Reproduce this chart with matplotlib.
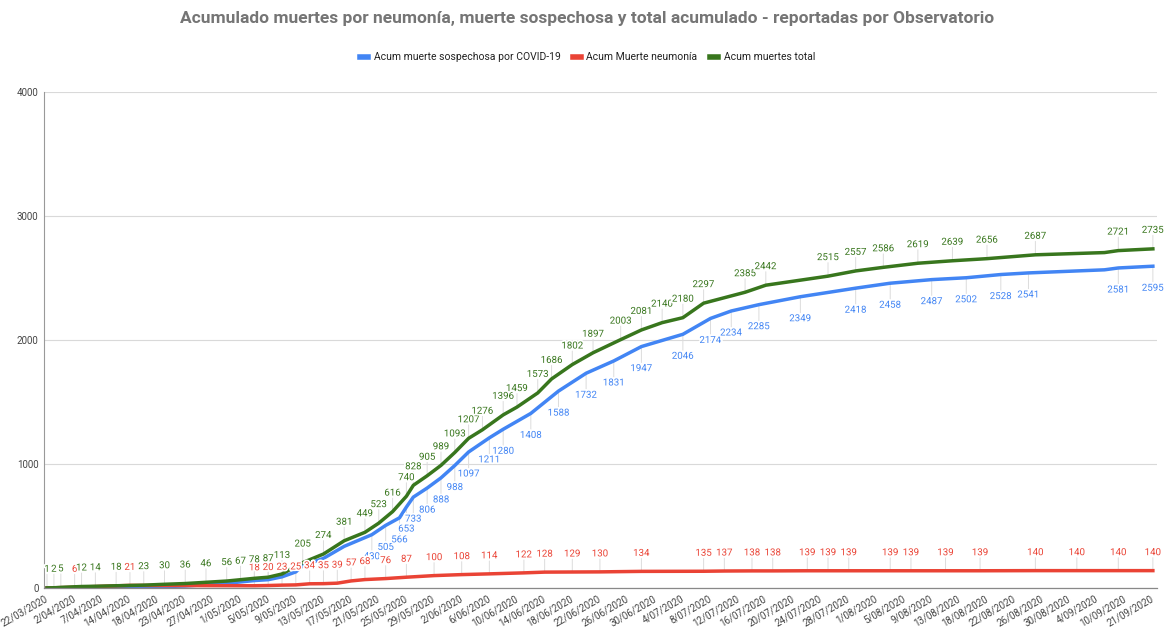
import matplotlib
matplotlib.use("Agg")
import matplotlib.pyplot as plt
import matplotlib.patheffects as pe
from matplotlib.lines import Line2D
import numpy as np

plt.rcParams["font.family"] = ["Roboto", "DejaVu Sans"]

# x axis: one category per report, a label every 4th category
tick_labels = ["22/03/2020", "2/04/2020", "7/04/2020", "14/04/2020", "18/04/2020",
               "23/04/2020", "27/04/2020", "1/05/2020", "5/05/2020", "9/05/2020",
               "13/05/2020", "17/05/2020", "21/05/2020", "25/05/2020", "29/05/2020",
               "2/06/2020", "6/06/2020", "10/06/2020", "14/06/2020", "18/06/2020",
               "22/06/2020", "26/06/2020", "30/06/2020", "4/07/2020", "8/07/2020",
               "12/07/2020", "16/07/2020", "20/07/2020", "24/07/2020", "28/07/2020",
               "1/08/2020", "5/08/2020", "9/08/2020", "13/08/2020", "18/08/2020",
               "22/08/2020", "26/08/2020", "30/08/2020", "4/09/2020", "10/09/2020",
               "21/09/2020"]
n_cat = 161
tick_step = 4

# Acum muerte sospechosa por COVID-19 (category index, value)
sosp_idx = [0, 10, 20, 26, 30, 32, 34, 36, 37, 40, 43, 47, 49, 51, 52, 53, 55, 57, 59, 61,
            64, 66, 70, 74, 78, 82, 86, 92, 96, 99, 103, 109, 117, 122, 128, 133, 138, 142,
            153, 155, 160]
sosp_val = [0, 2, 16, 38, 60, 67, 90, 130, 180, 239, 336, 430, 505, 566, 653, 733, 806, 888,
            988, 1097, 1211, 1280, 1408, 1588, 1732, 1831, 1947, 2046, 2174, 2234, 2285, 2349,
            2418, 2458, 2487, 2502, 2528, 2541, 2566, 2581, 2595]
sosp_first_label = 47
sosp_skip = [153]

# Acum Muerte neumonía
neum_idx = [0, 4, 12, 30, 32, 34, 36, 38, 40, 42, 44, 46, 49, 52, 56, 60, 64, 69, 72, 76,
            80, 86, 95, 98, 102, 105, 110, 113, 116, 122, 125, 130, 135, 143, 149, 155, 160]
neum_val = [0, 6, 21, 18, 20, 23, 25, 34, 35, 39, 57, 68, 76, 87, 100, 108, 114, 122, 128, 129,
            130, 134, 135, 137, 138, 138, 139, 139, 139, 139, 139, 139, 139, 140, 140, 140, 140]

# Acum muertes total
total_idx = [0, 1, 2, 5, 7, 10, 14, 17, 20, 23, 26, 28, 30, 32, 34, 37, 40, 43, 46, 48, 50,
             52, 53, 55, 57, 59, 61, 63, 66, 68, 71, 73, 76, 79, 83, 86, 89, 92, 95, 101, 104,
             113, 117, 121, 126, 131, 136, 143, 153, 155, 160]
total_val = [1, 2, 5, 12, 14, 18, 23, 30, 36, 46, 56, 67, 78, 87, 113, 205, 274, 381, 449, 523,
             616, 740, 828, 905, 989, 1093, 1207, 1276, 1396, 1459, 1573, 1686, 1802, 1897,
             2003, 2081, 2140, 2180, 2297, 2385, 2442, 2515, 2557, 2586, 2619, 2639, 2656,
             2687, 2705, 2721, 2735]
total_skip = [153]

BLUE = "#4285f4"
RED = "#ea4335"
GREEN = "#38761d"

fig = plt.figure(figsize=(11.68, 6.28), dpi=100)
ax = fig.add_axes([0.0377, 0.0637, 0.9529, 0.7898])

ax.plot(sosp_idx, sosp_val, color=BLUE, lw=2.5, solid_joinstyle="round", zorder=2)
ax.plot(neum_idx, neum_val, color=RED, lw=2.5, solid_joinstyle="round", zorder=2.1)
ax.plot(total_idx, total_val, color=GREEN, lw=2.5, solid_joinstyle="round", zorder=2.2)


def add_labels(idx, vals, color, dy, z):
    sign = 1 if dy > 0 else -1
    for i, v in zip(idx, vals):
        ax.annotate("", xy=(i, v), xytext=(0, dy - sign * 4), textcoords="offset points",
                    arrowprops=dict(arrowstyle="-", color="#dcdcdc", lw=0.7,
                                    shrinkA=0, shrinkB=0), zorder=1)
        ax.annotate(str(v), xy=(i, v), xytext=(0, dy), textcoords="offset points",
                    ha="center", va="center", fontsize=7, color=color, zorder=z,
                    path_effects=[pe.withStroke(linewidth=2.5, foreground="white")])


s_pts = [(i, v) for i, v in zip(sosp_idx, sosp_val)
         if i >= sosp_first_label and i not in sosp_skip]
add_labels([p[0] for p in s_pts], [p[1] for p in s_pts], BLUE, -15.5, 5)
n_pts = [(i, v) for i, v in zip(neum_idx, neum_val) if v > 0]
add_labels([p[0] for p in n_pts], [p[1] for p in n_pts], RED, 13.3, 6)
t_pts = [(i, v) for i, v in zip(total_idx, total_val) if i not in total_skip]
add_labels([p[0] for p in t_pts], [p[1] for p in t_pts], GREEN, 13.7, 7)

ax.set_xlim(-0.43, 160.6)
ax.set_ylim(0, 4000)
ax.set_yticks([0, 1000, 2000, 3000, 4000])
ax.set_xticks(np.arange(0, n_cat, tick_step))
ax.set_xticklabels(tick_labels, rotation=30, ha="right", va="center", rotation_mode="anchor")
ax.tick_params(axis="both", length=0, labelsize=7, colors="#444444")
ax.tick_params(axis="x", pad=7)
ax.tick_params(axis="y", pad=4)
ax.yaxis.grid(True, color="#d9d9d9", lw=0.8)
ax.set_axisbelow(True)
for s in ["top", "right"]:
    ax.spines[s].set_visible(False)
ax.spines["left"].set_color("#999999")
ax.spines["left"].set_linewidth(0.8)
ax.spines["bottom"].set_color("#888888")
ax.spines["bottom"].set_linewidth(0.9)

fig.text(0.503, 0.971,
         "Acumulado muertes por neumonía, muerte sospechosa y total acumulado - reportadas por Observatorio",
         ha="center", va="center", fontsize=12.5, fontweight="bold", color="#757575")

handles = [Line2D([], [], color=BLUE, lw=4),
           Line2D([], [], color=RED, lw=4),
           Line2D([], [], color=GREEN, lw=4)]
fig.legend(handles, ["Acum muerte sospechosa por COVID-19", "Acum Muerte neumonía",
                     "Acum muertes total"],
           loc="center", bbox_to_anchor=(0.503, 0.909), ncol=3, frameon=False,
           fontsize=7.5, handlelength=0.8, handletextpad=0.5, columnspacing=1.2,
           labelcolor="#222222")

fig.savefig("out.png", dpi=100)
